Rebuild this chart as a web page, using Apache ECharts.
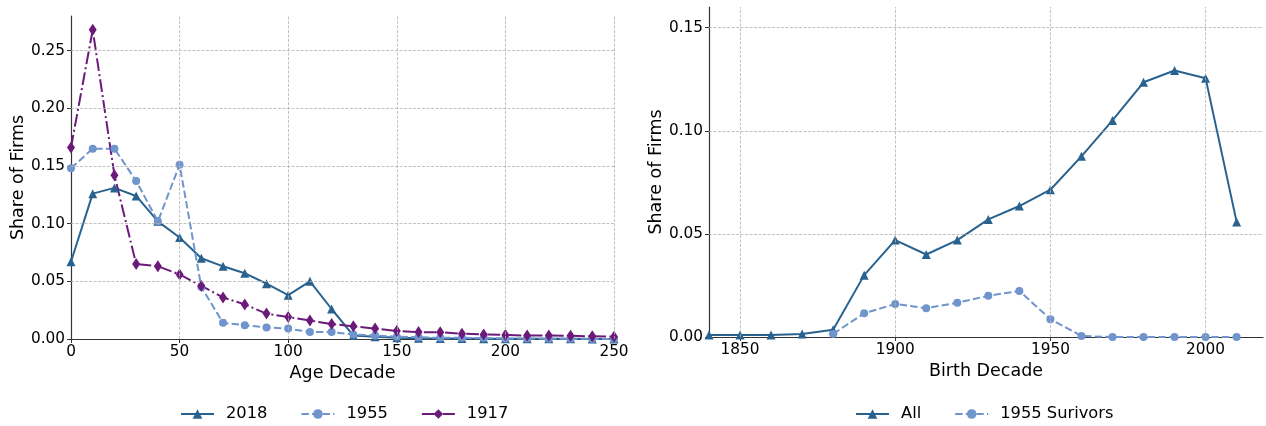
<!DOCTYPE html>
<html><head><meta charset="utf-8">
<script src="https://cdn.jsdelivr.net/npm/echarts@6/dist/echarts.min.js"></script>
<style>html,body{margin:0;padding:0;background:#fff}#c{width:1266px;height:426px}</style>
</head><body><div id="c"></div>
<script>
// ---- Left panel data ----
const ages = [0,10,20,30,40,50,60,70,80,90,100,110,120,130,140,150,160,170,180,190,200,210,220,230,240,250];
const s2018 = [0.067,0.126,0.131,0.124,0.102,0.088,0.070,0.063,0.057,0.048,0.038,0.050,0.026,0.003,0.002,0.001,0.0007,0.0005,0.0004,0.0003,0.0003,0.0002,0.0002,0.0002,0.0001,0.0001];
const s1955 = [0.148,0.165,0.165,0.137,0.102,0.151,0.045,0.014,0.012,0.010,0.009,0.006,0.006,0.004,0.003,0.002,0.0015,0.001,0.001,0.0008,0.0005,0.0004,0.0003,0.0002,0.0001,0.0001];
const s1917 = [0.166,0.268,0.142,0.065,0.063,0.056,0.046,0.036,0.030,0.022,0.019,0.016,0.013,0.011,0.009,0.007,0.006,0.0058,0.0046,0.004,0.0035,0.003,0.003,0.0028,0.0023,0.002];
const leftYTicks = [0,0.05,0.10,0.15,0.20,0.25];
const leftXTicks = [0,50,100,150,200,250];

// ---- Right panel data ----
const decades = [1840,1850,1860,1870,1880,1890,1900,1910,1920,1930,1940,1950,1960,1970,1980,1990,2000,2010];
const allFirms = [0.001,0.001,0.001,0.0015,0.0035,0.030,0.047,0.040,0.047,0.057,0.0635,0.0714,0.0876,0.105,0.1235,0.1292,0.1255,0.0558];
const survivors1955 = [null,null,null,null,0.0015,0.0115,0.016,0.014,0.0166,0.020,0.0223,0.0086,0.0005,0,0,0,0,0];
const rightYTicks = [0,0.05,0.10,0.15];
const rightXTicks = [1850,1900,1950,2000];

const C_DARK = '#29628f', C_LIGHT = '#7094cc', C_PURPLE = '#6b1a7a';
const FONT = 'DejaVu Sans', FS = 15.3, FS_NAME = 17.5, FS_LEG = 16.3;
const gridLine = {type:[3,1.5], color:'#b3b3b3', width:0.8};
const axisLine = {show:true, lineStyle:{color:'#333', width:1.2}};
const axisTick = {show:true, inside:false, length:4, lineStyle:{color:'#333', width:1}};
const lbl = {fontFamily:FONT, fontSize:FS, color:'#000'};
const nameLbl = {fontFamily:FONT, fontSize:FS_NAME, color:'#000'};
const legLbl = {fontFamily:FONT, fontSize:FS_LEG, color:'#000', padding:[0,0,0,7]};
const pairs = (xs, ys) => xs.map((x,i) => [x, ys[i]]);

function gridSeries(xi, xs, ys) {
  return {
    type:'line', xAxisIndex:xi, yAxisIndex:xi, data:[], z:1, silent:true,
    markLine:{silent:true, symbol:'none', label:{show:false}, lineStyle:gridLine, animation:false,
      data: xs.map(v=>({xAxis:v})).concat(ys.filter(v=>v>0).map(v=>({yAxis:v})))}
  };
}

const option = {
  animation:false,
  textStyle:{fontFamily:FONT},
  grid:[{left:71, top:16, width:543, height:323}, {left:709, top:7, width:554, height:330}],
  xAxis:[
    {type:'value', gridIndex:0, min:0, max:250, interval:50, axisLine, axisTick,
     axisLabel:{...lbl, margin:6}, splitLine:{show:false},
     name:'Age Decade', nameLocation:'middle', nameGap:20, nameTextStyle:nameLbl},
    {type:'value', gridIndex:1, min:1840, max:2018.5, axisLine, 
     axisTick:{...axisTick, customValues:rightXTicks},
     axisLabel:{...lbl, margin:6, customValues:rightXTicks, formatter:v=>String(Math.round(v))}, splitLine:{show:false},
     name:'Birth Decade', nameLocation:'middle', nameGap:20, nameTextStyle:nameLbl}
  ],
  yAxis:[
    {type:'value', gridIndex:0, min:0, max:0.28, axisLine,
     axisTick:{...axisTick, customValues:leftYTicks},
     axisLabel:{...lbl, margin:6, customValues:leftYTicks, formatter:v=>v.toFixed(2)}, splitLine:{show:false},
     name:'Share of Firms', nameLocation:'middle', nameGap:42, nameTextStyle:nameLbl},
    {type:'value', gridIndex:1, min:0, max:0.16, axisLine,
     axisTick:{...axisTick, customValues:rightYTicks},
     axisLabel:{...lbl, margin:6, customValues:rightYTicks, formatter:v=>v.toFixed(2)}, splitLine:{show:false},
     name:'Share of Firms', nameLocation:'middle', nameGap:43, nameTextStyle:nameLbl}
  ],
  legend:[
    {data:['2018','1955','1917'], left:175, top:401, itemWidth:33, itemHeight:12, itemGap:33, textStyle:legLbl},
    {data:['All','1955 Surivors'], left:850, top:401, itemWidth:33, itemHeight:12, itemGap:33, textStyle:legLbl}
  ],
  series:[
    gridSeries(0, leftXTicks.filter(v=>v>0), leftYTicks),
    gridSeries(1, rightXTicks, rightYTicks),
    {name:'2018', type:'line', xAxisIndex:0, yAxisIndex:0, data:pairs(ages,s2018),
     symbol:'triangle', symbolSize:9, color:C_DARK, lineStyle:{width:2, color:C_DARK}, itemStyle:{color:C_DARK}},
    {name:'1955', type:'line', xAxisIndex:0, yAxisIndex:0, data:pairs(ages,s1955),
     symbol:'circle', symbolSize:8, color:C_LIGHT, lineStyle:{width:2, color:C_LIGHT, type:[7.4,3.2]}, itemStyle:{color:C_LIGHT}},
    {name:'1917', type:'line', xAxisIndex:0, yAxisIndex:0, data:pairs(ages,s1917),
     symbol:'diamond', symbolSize:[8,12], color:C_PURPLE, lineStyle:{width:2, color:C_PURPLE, type:[12.8,3.2,2,3.2]}, itemStyle:{color:C_PURPLE}},
    {name:'All', type:'line', xAxisIndex:1, yAxisIndex:1, data:pairs(decades,allFirms),
     symbol:'triangle', symbolSize:9, color:C_DARK, lineStyle:{width:2, color:C_DARK}, itemStyle:{color:C_DARK}},
    {name:'1955 Surivors', type:'line', xAxisIndex:1, yAxisIndex:1, data:pairs(decades,survivors1955),
     symbol:'circle', symbolSize:8, color:C_LIGHT, lineStyle:{width:2, color:C_LIGHT, type:[7.4,3.2]}, itemStyle:{color:C_LIGHT}}
  ]
};
const chart = echarts.init(document.getElementById('c'), null, {renderer:'canvas'});
chart.setOption(option);
</script></body></html>
